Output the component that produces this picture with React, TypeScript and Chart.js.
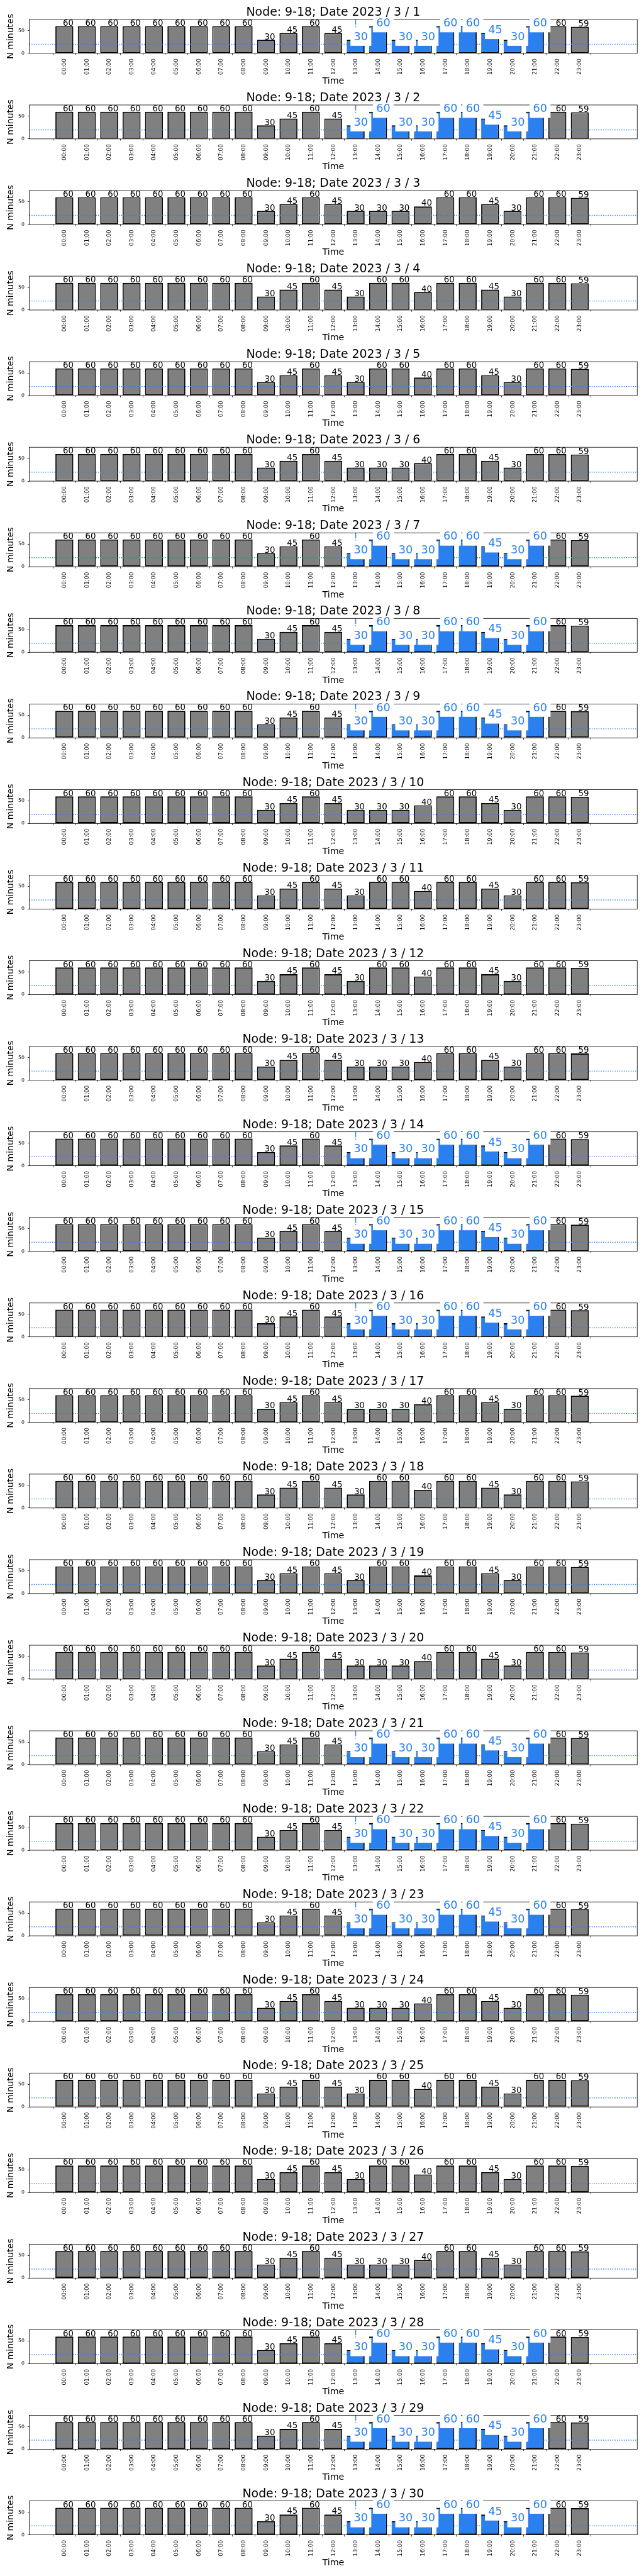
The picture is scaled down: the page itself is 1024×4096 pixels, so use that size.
import React, { useEffect, useRef } from "react";
import { Chart, registerables } from "chart.js";

Chart.register(...registerables);

// ---------------- data ----------------
const NODE = "9-18";
const YEAR = 2023;
const MONTH = 3;
const DAYS = [
  1, 2, 3, 4, 5, 6, 7, 8, 9, 10, 11, 12, 13, 14, 15,
  16, 17, 18, 19, 20, 21, 22, 23, 24, 25, 26, 27, 28, 29, 30,
];
const HOURS = [
  "00:00", "01:00", "02:00", "03:00", "04:00", "05:00", "06:00", "07:00",
  "08:00", "09:00", "10:00", "11:00", "12:00", "13:00", "14:00", "15:00",
  "16:00", "17:00", "18:00", "19:00", "20:00", "21:00", "22:00", "23:00",
];
// minutes per hour, for the three day types seen in the picture
const VALUES_TUE_THU = [60, 60, 60, 60, 60, 60, 60, 60, 60, 30, 45, 60, 45, 30, 60, 30, 30, 60, 60, 45, 30, 60, 60, 59];
const VALUES_MON_FRI = [60, 60, 60, 60, 60, 60, 60, 60, 60, 30, 45, 60, 45, 30, 30, 30, 40, 60, 60, 45, 30, 60, 60, 59];
const VALUES_WEEKEND = [60, 60, 60, 60, 60, 60, 60, 60, 60, 30, 45, 60, 45, 30, 60, 60, 40, 60, 60, 45, 30, 60, 60, 59];
// day type of each date (T = Tue-Thu, highlighted; F = Mon/Fri; W = weekend)
const DAY_TYPES = [
  "T", "T", "F", "W", "W", "F", "T", "T", "T", "F", "W", "W", "F", "T", "T",
  "T", "F", "W", "W", "F", "T", "T", "T", "F", "W", "W", "F", "T", "T", "T",
];
const HIGHLIGHT_FROM = 13; // highlighted hour window on Tue-Thu
const HIGHLIGHT_TO = 21;
const THRESHOLD = 20;
const Y_MAX = 75;
const Y_TICKS = [0, 50];
const X_MIN = -1;
const X_MAX = 25;

// ---------------- style ----------------
const S = 0.682;
const W = 1024;
const PITCH = 199.5 * S;
const CANVAS_H = 138;
const AX_LEFT = 68.3 * S;
const AX_RIGHT = 1485.7 * S;
const AX_TOP = 45.3 * S;
const AX_H = 79 * S;
const GREY = "#808080";
const BLUE = "#2b80f0";
const FONT = '"DejaVu Sans", "Liberation Sans", sans-serif';

function valuesFor(type: string): number[] {
  if (type === "T") return VALUES_TUE_THU;
  if (type === "F") return VALUES_MON_FRI;
  return VALUES_WEEKEND;
}

function makeChart(canvas: HTMLCanvasElement, dayIndex: number, padTop: number) {
  const day = DAYS[dayIndex];
  const type = DAY_TYPES[dayIndex];
  const values = valuesFor(type);
  const highlighted = type === "T";
  const isBlue = (i: number) => highlighted && i >= HIGHLIGHT_FROM && i <= HIGHLIGHT_TO;

  const panelPlugin = {
    id: "panel" + dayIndex,
    afterDatasetsDraw(chart: any) {
      const ctx = chart.ctx as CanvasRenderingContext2D;
      const xs = chart.scales.x;
      const ys = chart.scales.y;
      const a = chart.chartArea;
      ctx.save();

      // threshold line (dotted)
      const yT = ys.getPixelForValue(THRESHOLD);
      ctx.strokeStyle = BLUE;
      ctx.lineWidth = 1.4;
      ctx.setLineDash([1.4, 2.25]);
      ctx.beginPath();
      ctx.moveTo(a.left, yT);
      ctx.lineTo(a.right, yT);
      ctx.stroke();

      // vertical marker at start of highlight window
      if (highlighted) {
        const xv = xs.getPixelForValue(HIGHLIGHT_FROM);
        ctx.setLineDash([8.7, 2.2, 1.4, 2.2]);
        ctx.beginPath();
        ctx.moveTo(xv, a.top);
        ctx.lineTo(xv, a.bottom);
        ctx.stroke();
      }
      ctx.setLineDash([]);

      // axes frame
      ctx.strokeStyle = "#000";
      ctx.lineWidth = 0.8;
      ctx.strokeRect(a.left, a.top, a.right - a.left, a.bottom - a.top);

      // value labels
      ctx.textBaseline = "alphabetic";
      ctx.textAlign = "left";
      values.forEach((v, i) => {
        if (isBlue(i)) return;
        const xc = xs.getPixelForValue(i);
        const yv = ys.getPixelForValue(v);
        ctx.font = `13.3px ${FONT}`;
        ctx.fillStyle = "#000";
        ctx.fillText(String(v), xc - 2.4, yv - 0.7);
      });
      values.forEach((v, i) => {
        if (!isBlue(i)) return;
        const xc = xs.getPixelForValue(i);
        const yv = ys.getPixelForValue(v);
        const fs = 17.7;
        ctx.font = `${fs}px ${FONT}`;
        const txt = String(v);
        const tw = ctx.measureText(txt).width;
        const tx = xc - 3;
        const ty = yv + 0.4;
        ctx.fillStyle = "#fff";
        const top = ty - (0.76 * fs + 5.8);
        const bot = ty + (0.24 * fs + 5.0);
        ctx.fillRect(tx - 5.3, top, tw + 10.6, bot - top);
        ctx.fillStyle = BLUE;
        ctx.fillText(txt, tx, ty);
      });

      // title
      const cx = (a.left + a.right) / 2;
      ctx.fillStyle = "#000";
      ctx.textAlign = "center";
      ctx.font = `18.9px ${FONT}`;
      ctx.fillText(`Node: ${NODE}; Date ${YEAR} / ${MONTH} / ${day}`, cx, a.top - 5.9);

      // x axis title
      ctx.font = `14.3px ${FONT}`;
      ctx.fillText("Time", cx, a.bottom + 48.4);

      // y axis title
      ctx.save();
      ctx.translate(21.2, (a.top + a.bottom) / 2);
      ctx.rotate(-Math.PI / 2);
      ctx.font = `14px ${FONT}`;
      ctx.textAlign = "center";
      ctx.fillText("N minutes", 0, 0);
      ctx.restore();

      // x tick labels (rotated)
      ctx.font = `9px ${FONT}`;
      HOURS.forEach((h, i) => {
        const xt = xs.getPixelForValue(i);
        ctx.save();
        ctx.translate(xt + 2.6, a.bottom + 8.3);
        ctx.rotate(-Math.PI / 2);
        ctx.textAlign = "right";
        ctx.fillText(h, 0, 0);
        ctx.restore();
      });

      ctx.restore();
    },
  };

  return new Chart(canvas, {
    type: "bar",
    data: {
      datasets: [
        {
          data: values.map((v, i) => ({ x: i, y: v })),
          backgroundColor: values.map((_, i) => (isBlue(i) ? BLUE : GREY)),
          borderColor: "#000",
          borderWidth: (c: any) =>
            isBlue(c.dataIndex)
              ? { top: 1.8, right: 1.8, bottom: 1.8, left: 0 }
              : 1.8,
          borderSkipped: false,
          barPercentage: 0.8,
          categoryPercentage: 1,
        },
      ],
    },
    options: {
      responsive: false,
      animation: false,
      devicePixelRatio: 1,
      events: [],
      layout: { padding: { top: padTop, right: W - AX_RIGHT, left: 0, bottom: 0 } },
      plugins: {
        legend: { display: false },
        tooltip: { enabled: false },
        title: { display: false },
      },
      scales: {
        x: {
          type: "linear",
          min: X_MIN,
          max: X_MAX,
          afterBuildTicks: (s: any) => {
            s.ticks = HOURS.map((_, i) => ({ value: i }));
          },
          afterFit: (s: any) => {
            s.height = CANVAS_H - (padTop + AX_H);
          },
          ticks: { display: false },
          grid: {
            display: true,
            drawOnChartArea: false,
            drawTicks: true,
            tickLength: 2.7,
            color: "#000",
            lineWidth: 0.8,
          },
          border: { display: false },
        },
        y: {
          min: 0,
          max: Y_MAX,
          afterBuildTicks: (s: any) => {
            s.ticks = Y_TICKS.map((v) => ({ value: v }));
          },
          afterFit: (s: any) => {
            s.width = AX_LEFT;
          },
          ticks: { color: "#000", font: { family: FONT, size: 7.8 }, padding: 5 },
          grid: {
            drawOnChartArea: false,
            drawTicks: true,
            tickLength: 2.7,
            color: "#000",
            lineWidth: 0.8,
          },
          border: { display: false },
        },
      },
    } as any,
    plugins: [panelPlugin],
  });
}

export default function App() {
  const refs = useRef<(HTMLCanvasElement | null)[]>([]);

  useEffect(() => {
    const charts: Chart[] = [];
    DAYS.forEach((_, k) => {
      const c = refs.current[k];
      if (!c) return;
      const exact = k * PITCH;
      const frac = exact - Math.round(exact);
      charts.push(makeChart(c, k, AX_TOP + frac));
    });
    return () => charts.forEach((ch) => ch.destroy());
  }, []);

  return (
    <div
      style={{
        position: "absolute",
        left: 0,
        top: 0,
        width: W,
        height: 4096,
        background: "#fff",
        overflow: "hidden",
      }}
    >
      {DAYS.map((d, k) => (
        <canvas
          key={d}
          ref={(el) => {
            refs.current[k] = el;
          }}
          width={W}
          height={CANVAS_H}
          style={{
            position: "absolute",
            left: 0,
            top: Math.round(k * PITCH),
            width: W,
            height: CANVAS_H,
          }}
        />
      ))}
    </div>
  );
}
